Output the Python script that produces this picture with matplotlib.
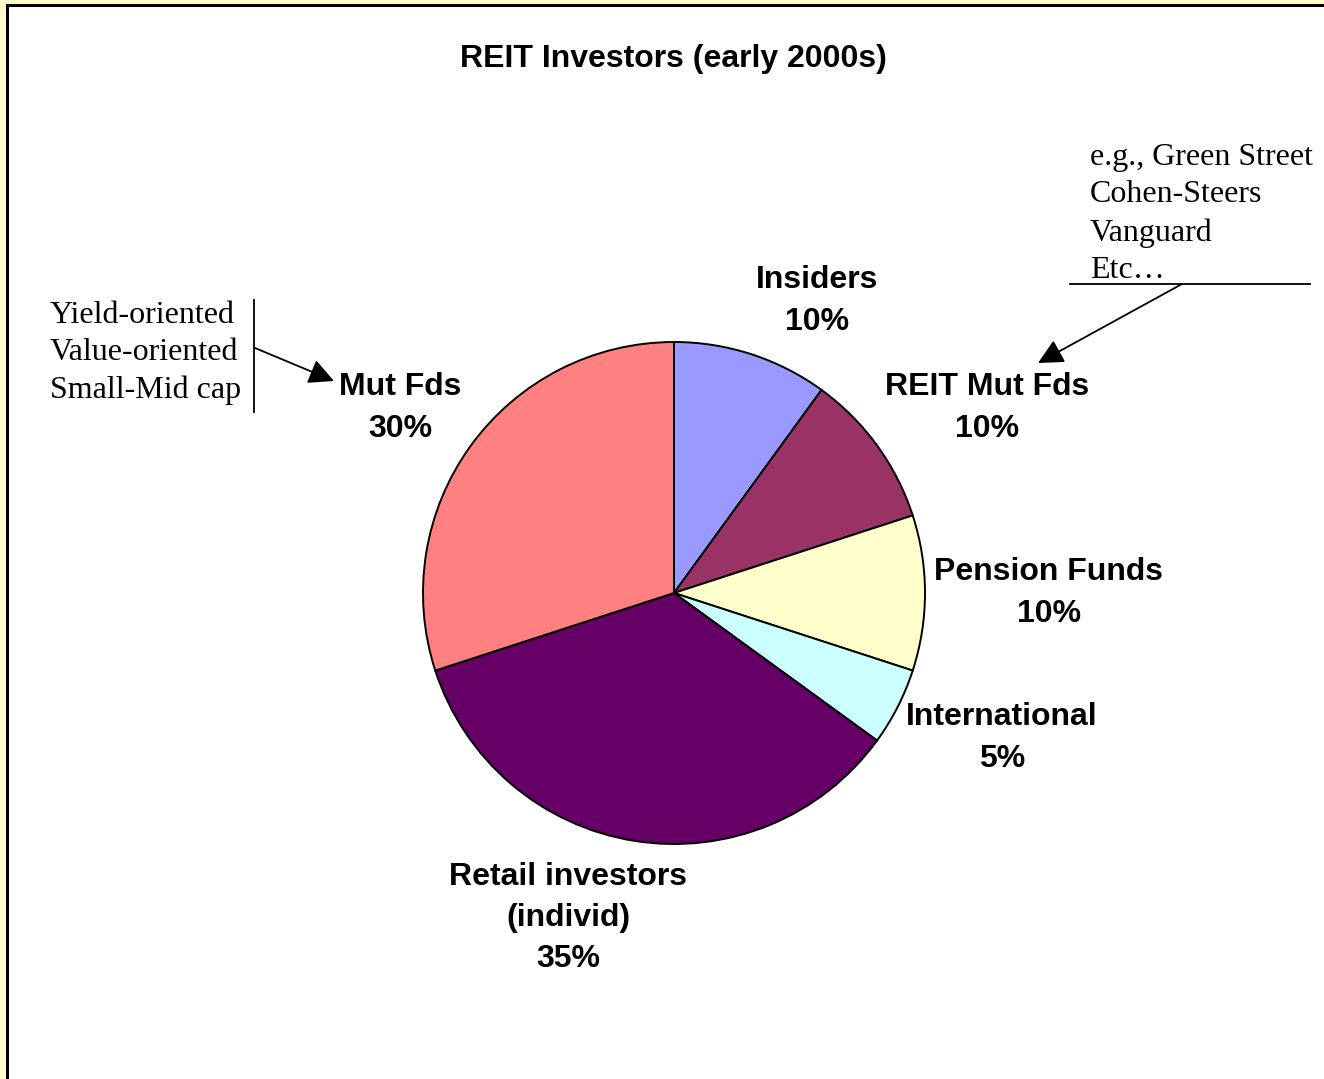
import matplotlib.pyplot as plt
from matplotlib.patches import Rectangle

plt.rcParams['font.family'] = ['Liberation Sans', 'DejaVu Sans']

# data
labels = ['Insiders', 'REIT Mut Fds', 'Pension Funds', 'International',
          'Retail investors\n(individ)', 'Mut Fds']
shares = [10, 10, 10, 5, 35, 30]
colors = ['#9999FF', '#993366', '#FFFFCC', '#CCFFFF', '#660066', '#FF8080']

# label positions (pixel coords, centre of the text block)
label_pos = [(817, 301), (987, 408), (1049, 593), (1002, 738),
             (568, 918), (400, 408)]

left_note = ['Yield-oriented', 'Value-oriented', 'Small-Mid cap']
right_note = ['e.g., Green Street', 'Cohen-Steers', 'Vanguard', 'Etc\u2026']

W, H = 1324, 1079
fig = plt.figure(figsize=(W / 100, H / 100), dpi=100)
fig.patch.set_facecolor('#FFFFCC')
ax = fig.add_axes([0, 0, 1, 1])

# white chart panel with black border (cropped at right/bottom)
ax.add_patch(Rectangle((7, 5), 1400, 1200, facecolor='white',
                       edgecolor='black', lw=2.2, zorder=0))

ax.pie(shares, colors=colors, center=(674, 593), radius=251,
       startangle=270, counterclock=True,
       wedgeprops=dict(edgecolor='black', linewidth=1.4))

ax.set_xlim(0, W)
ax.set_ylim(H, 0)
ax.set_aspect('equal')
ax.axis('off')

ax.text(673, 59, 'REIT Investors (early 2000s)', ha='center', va='center',
        fontsize=23, fontweight='bold')

for lab, v, (x, y) in zip(labels, shares, label_pos):
    ax.text(x, y, f'{lab}\n{v}%', ha='center', va='center', fontsize=23,
            fontweight='bold', linespacing=1.49)

# side notes
ax.text(50, 353, '\n'.join(left_note), ha='left', va='center',
        fontsize=23, family='Liberation Serif', linespacing=1.38)
ax.plot([254, 254], [300, 412], color='black', lw=1.3)
ax.annotate('', xy=(334, 381), xytext=(255, 348),
            arrowprops=dict(arrowstyle='-|>,head_length=0.7,head_width=0.35',
                            mutation_scale=22, color='black', lw=1.3,
                            shrinkA=0, shrinkB=0))

ax.text(1090, 214, '\n'.join(right_note), ha='left', va='center',
        fontsize=23, family='Liberation Serif', linespacing=1.38)
ax.plot([1070, 1310], [284, 284], color='black', lw=1.3)
ax.annotate('', xy=(1038, 363), xytext=(1182, 284),
            arrowprops=dict(arrowstyle='-|>,head_length=0.7,head_width=0.35',
                            mutation_scale=22, color='black', lw=1.3,
                            shrinkA=0, shrinkB=0))

fig.savefig('out.png', dpi=100, facecolor=fig.get_facecolor())
